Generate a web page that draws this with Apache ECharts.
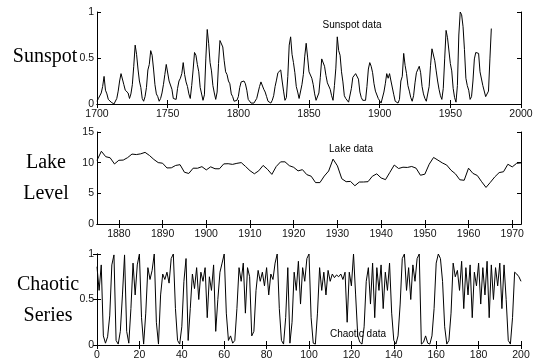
<!DOCTYPE html>
<html><head><meta charset="utf-8">
<script src="https://cdn.jsdelivr.net/npm/echarts@6/dist/echarts.min.js"></script>
<style>html,body{margin:0;padding:0;background:#fff}#c{width:543px;height:364px}</style>
</head><body><div id="c"></div>
<script>
// ---------- DATA ----------
const sunspotStartYear = 1700;
const sunspotValues = [
0.03,0.06,0.08,0.12,0.19,0.30,0.15,0.11,0.05,0.04,
0.02,0.00,0.00,0.01,0.06,0.14,0.25,0.33,0.32,0.21,
0.15,0.14,0.12,0.06,0.11,0.21,0.41,0.64,0.54,0.38,
0.25,0.18,0.06,0.03,0.08,0.18,0.37,0.43,0.58,0.53,
0.38,0.21,0.11,0.08,0.03,0.06,0.12,0.21,0.32,0.43,
0.44,0.25,0.25,0.16,0.06,0.05,0.05,0.17,0.25,0.28,
0.33,0.45,0.32,0.24,0.19,0.11,0.06,0.20,0.37,0.56,
0.53,0.43,0.35,0.18,0.16,0.04,0.10,0.49,0.81,0.66,
0.45,0.36,0.20,0.12,0.05,0.13,0.44,0.69,0.69,0.62,
0.47,0.35,0.32,0.25,0.22,0.11,0.08,0.03,0.02,0.04,
0.08,0.18,0.24,0.23,0.25,0.22,0.15,0.05,0.04,0.01,
0.00,0.01,0.03,0.06,0.07,0.19,0.24,0.22,0.16,0.13,
0.08,0.03,0.02,0.01,0.04,0.09,0.19,0.26,0.34,0.35,
0.37,0.25,0.14,0.04,0.07,0.30,0.64,0.73,0.54,0.45,
0.34,0.19,0.13,0.06,0.08,0.21,0.32,0.52,0.66,0.51,
0.35,0.34,0.28,0.21,0.11,0.04,0.02,0.12,0.29,0.49,
0.50,0.41,0.31,0.23,0.25,0.16,0.09,0.04,0.20,0.39,
0.73,0.58,0.53,0.35,0.24,0.09,0.06,0.07,0.02,0.03,
0.17,0.29,0.31,0.33,0.33,0.27,0.13,0.07,0.04,0.03,
0.04,0.19,0.38,0.45,0.41,0.34,0.22,0.14,0.14,0.06,
0.05,0.01,0.03,0.13,0.22,0.33,0.28,0.33,0.25,0.23,
0.10,0.03,0.02,0.01,0.05,0.25,0.30,0.55,0.42,0.33,
0.20,0.14,0.07,0.03,0.09,0.23,0.34,0.36,0.41,0.34,
0.19,0.11,0.06,0.03,0.05,0.19,0.42,0.60,0.58,0.47,
0.36,0.25,0.16,0.09,0.05,0.17,0.49,0.80,0.72,0.71,
0.44,0.36,0.17,0.07,0.02,0.20,0.75,1.00,0.97,0.84,
0.59,0.28,0.20,0.15,0.05,0.08,0.25,0.49,0.56,0.55,
0.55,0.35,0.36,0.20,0.18,0.08,0.07,0.14,0.49,0.82
];
const sunspotXTicks = [1700,1750,1800,1850,1900,1950,2000];
const unitYTicks = [0,0.5,1];

const lakeStartYear = 1875;
const lakeValues = [
10.38,11.86,10.97,10.80,9.79,10.39,10.42,10.82,11.40,11.32,
11.44,11.68,11.17,10.53,10.01,9.91,9.14,9.16,9.55,9.67,
8.44,8.24,9.10,9.09,9.35,8.82,9.32,9.01,9.00,9.80,
9.83,9.72,9.89,10.01,9.37,8.69,8.19,8.67,9.55,8.92,
8.09,9.37,10.13,10.14,9.51,9.24,8.66,8.86,8.05,7.79,
6.75,6.75,7.82,8.64,10.58,9.48,7.38,6.90,6.94,6.24,
6.84,6.85,6.90,7.79,8.18,7.51,7.23,8.42,9.61,9.05,
9.26,9.22,9.38,9.10,7.95,8.12,9.75,10.85,10.41,9.96,
9.61,8.76,8.18,7.21,7.13,9.10,8.25,7.91,6.89,5.96,
6.80,7.68,8.38,8.52,9.74,9.31,9.89,9.96
];
const lakeXTicks = [1880,1890,1900,1910,1920,1930,1940,1950,1960,1970];
const lakeYTicks = [0,5,10,15];

const chaoticValues = [
0.86,0.60,0.88,0.10,0.02,0.09,0.32,0.88,0.99,0.05,
0.01,0.15,0.55,0.99,0.15,0.02,0.40,0.90,0.55,0.88,
1.00,0.30,0.01,0.35,0.85,0.72,0.82,1.00,0.25,0.01,
0.55,0.78,0.72,0.80,0.68,0.95,1.00,0.40,0.05,0.01,
0.20,0.70,0.95,0.05,0.40,0.78,0.62,0.85,0.50,0.80,
0.70,0.85,0.30,0.75,0.60,0.88,0.15,0.50,0.80,0.90,
1.00,0.35,0.05,0.10,0.02,0.05,0.40,0.85,0.70,0.90,
0.35,0.85,0.75,0.10,0.15,0.60,0.82,0.70,0.80,0.65,
0.85,0.55,0.78,0.72,0.90,1.00,0.40,0.05,0.01,0.30,
0.85,0.02,0.25,0.80,0.60,0.92,0.45,0.85,0.70,0.95,
1.00,0.30,0.02,0.01,0.35,0.85,0.60,0.80,0.55,0.82,
0.70,0.78,0.74,0.77,0.75,0.78,0.72,0.80,0.25,0.80,
0.65,1.00,0.55,0.10,0.03,0.01,0.20,0.70,0.85,0.45,
0.90,0.30,0.85,0.60,0.88,0.40,0.80,0.60,0.90,0.35,
0.05,0.01,0.10,0.45,0.95,1.00,0.60,0.85,0.50,0.88,
0.70,0.95,1.00,0.01,0.03,0.10,0.02,0.01,0.10,0.40,
0.90,1.00,0.95,0.70,0.20,0.01,0.05,0.35,0.90,0.75,
0.82,0.60,0.92,0.40,0.85,0.55,0.88,0.30,0.80,0.65,
0.90,0.45,0.85,0.55,0.92,0.30,0.88,0.50,0.85,0.65,
0.90,0.40,0.88,0.50,0.05,0.01,0.30,0.80,0.78,0.75,
0.70
];
const chaoticXTicks = [0,20,40,60,80,100,120,140,160,180,200];

// ---------- CHART ----------
const toPairs = (start, vals) => vals.map((v, i) => [start + i, v]);
const tickFont = {fontSize: 10.5, color: '#111', fontFamily: 'Liberation Sans'};
const lineC = '#000';
const plain = v => String(v);

function xAxes(gi, min, max, ticks) {
  const common = {
    type: 'value', gridIndex: gi, min: min, max: max,
    splitLine: {show: false},
    axisLine: {show: true, lineStyle: {color: lineC, width: 1}},
    axisTick: {show: true, inside: true, length: 4, lineStyle: {color: lineC}, customValues: ticks},
  };
  return [
    Object.assign({}, common, {position: 'bottom', axisLabel: Object.assign({show: true, margin: 5, customValues: ticks, formatter: plain, showMinLabel: true, showMaxLabel: true}, tickFont)}),
    Object.assign({}, common, {position: 'top', axisLabel: {show: false}})
  ];
}
function yAxes(gi, min, max, ticks) {
  const common = {
    type: 'value', gridIndex: gi, min: min, max: max,
    splitLine: {show: false},
    axisLine: {show: true, lineStyle: {color: lineC, width: 1}},
    axisTick: {show: true, inside: true, length: 4, lineStyle: {color: lineC}, customValues: ticks},
  };
  return [
    Object.assign({}, common, {position: 'left', axisLabel: Object.assign({show: true, margin: 3, customValues: ticks, formatter: plain, showMinLabel: true, showMaxLabel: true}, tickFont)}),
    Object.assign({}, common, {position: 'right', axisLabel: {show: false}})
  ];
}

const grids = [
  {left: 97, right: 22, top: 12, height: 92},
  {left: 97, right: 22, top: 132, height: 92},
  {left: 97, right: 22, top: 254, height: 91}
];

const serif = '20px "Liberation Serif"';
const annot = '10px "Liberation Sans"';

const option = {
  animation: false,
  backgroundColor: '#fff',
  grid: grids,
  xAxis: [].concat(
    xAxes(0, 1700, 2000, sunspotXTicks),
    xAxes(1, 1875, 1972, lakeXTicks),
    xAxes(2, 0, 200, chaoticXTicks)
  ),
  yAxis: [].concat(
    yAxes(0, 0, 1, unitYTicks),
    yAxes(1, 0, 15, lakeYTicks),
    yAxes(2, 0, 1, unitYTicks)
  ),
  series: [
    {type: 'line', xAxisIndex: 0, yAxisIndex: 0, data: toPairs(sunspotStartYear, sunspotValues), showSymbol: false, lineStyle: {color: lineC, width: 1}},
    {type: 'line', xAxisIndex: 2, yAxisIndex: 2, data: toPairs(lakeStartYear, lakeValues), showSymbol: false, lineStyle: {color: lineC, width: 1}},
    {type: 'line', xAxisIndex: 4, yAxisIndex: 4, data: toPairs(0, chaoticValues), showSymbol: false, lineStyle: {color: lineC, width: 1}}
  ],
  graphic: [
    {type: 'text', x: 45, y: 57, style: {text: 'Sunspot', font: serif, fill: '#000', align: 'center', verticalAlign: 'middle'}},
    {type: 'text', x: 46, y: 178, style: {text: 'Lake\nLevel', font: serif, fill: '#000', align: 'center', verticalAlign: 'middle', lineHeight: 31}},
    {type: 'text', x: 48, y: 300, style: {text: 'Chaotic\nSeries', font: serif, fill: '#000', align: 'center', verticalAlign: 'middle', lineHeight: 31}},
    {type: 'text', x: 352, y: 25, style: {text: 'Sunspot data', font: annot, fill: '#000', align: 'center', verticalAlign: 'middle'}},
    {type: 'text', x: 351, y: 149, style: {text: 'Lake data', font: annot, fill: '#000', align: 'center', verticalAlign: 'middle'}},
    {type: 'text', x: 358, y: 334, style: {text: 'Chaotic data', font: annot, fill: '#000', align: 'center', verticalAlign: 'middle'}}
  ]
};
const chart = echarts.init(document.getElementById('c'), null, {renderer: 'canvas'});
chart.setOption(option);
</script>
</body></html>
